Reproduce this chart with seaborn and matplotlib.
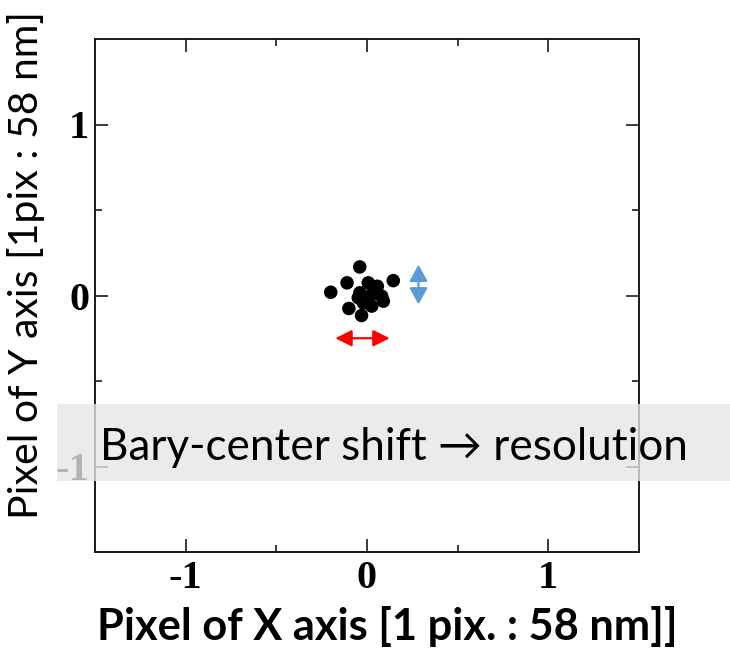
import numpy as np
import pandas as pd
import matplotlib
matplotlib.use("Agg")
import matplotlib.pyplot as plt
from matplotlib.patches import Rectangle, FancyArrowPatch
from matplotlib.ticker import FixedLocator
import seaborn as sns

# Bary-center positions of the detected spot (pixel units)
x_pix = [-0.04, -0.20, -0.11, 0.145, -0.10, -0.03,
         0.007, 0.057, -0.039, 0.026, 0.081, 0.09, -0.02, 0.026, -0.048]
y_pix = [0.167, 0.019, 0.074, 0.087, -0.076, -0.117,
         0.074, 0.054, 0.016, 0.006, -0.004, -0.033, -0.043, -0.062, -0.013]

tick_values = [-1, 0, 1]
tick_labels = ["-1", "0", "1"]
minor_values = [-0.5, 0.5]

x_title = "Pixel of X axis [1 pix. : 58 nm]]"
y_title = "Pixel of Y axis [1pix : 58 nm]"
banner_text = "Bary-center shift \u2192 resolution"

df = pd.DataFrame({"x": x_pix, "y": y_pix})

sns.set_theme(style="white")
plt.rcParams["font.family"] = ["Lato", "DejaVu Sans"]

W, H, DPI = 730, 664, 100
fig = plt.figure(figsize=(W / DPI, H / DPI), dpi=DPI)
ax = fig.add_axes([95 / W, 1 - 552 / H, (639 - 95) / W, (552 - 39) / H])

sns.scatterplot(data=df, x="x", y="y", ax=ax, color="black", s=95,
                edgecolor="none", linewidth=0, legend=False, zorder=3)
ax.set_xlabel("")
ax.set_ylabel("")

ax.set_xlim(-1.5, 1.5)
ax.set_ylim(-1.5, 1.5)

for sp in ax.spines.values():
    sp.set_color("#1a1a1a")
    sp.set_linewidth(1.4)
    sp.set_visible(True)

ax.xaxis.set_major_locator(FixedLocator(tick_values))
ax.yaxis.set_major_locator(FixedLocator(tick_values))
ax.xaxis.set_minor_locator(FixedLocator(minor_values))
ax.yaxis.set_minor_locator(FixedLocator(minor_values))
ax.set_xticklabels(tick_labels)
ax.set_yticklabels(tick_labels)
ax.tick_params(which="both", direction="in", top=True, right=True,
               bottom=True, left=True, color="#1a1a1a", width=1.2)
ax.tick_params(which="major", length=9.5)
ax.tick_params(which="minor", length=4.7)
ax.tick_params(axis="x", which="major", pad=6)
ax.tick_params(axis="y", which="major", pad=4)
for lab in ax.get_xticklabels() + ax.get_yticklabels():
    lab.set_fontfamily("Liberation Serif")
    lab.set_fontweight("bold")
    lab.set_fontsize(29)
    lab.set_color("black")

# Horizontal (red) and vertical (blue) spread indicators
red_arrow = FancyArrowPatch((-0.175, -0.25), (0.125, -0.25),
                            arrowstyle="<|-|>,head_length=1.0,head_width=0.5",
                            mutation_scale=10, color="#ff0000", lw=1.6,
                            shrinkA=0, shrinkB=0, zorder=4)
blue_arrow = FancyArrowPatch((0.284, 0.18), (0.284, -0.052),
                             arrowstyle="<|-|>,head_length=1.0,head_width=0.55",
                             mutation_scale=10, color="#5b9bd5", lw=1.6,
                             shrinkA=0, shrinkB=0, zorder=4)
ax.add_patch(red_arrow)
ax.add_patch(blue_arrow)

xl = fig.text(387.5 / W, 1 - 640 / H, x_title, ha="center", va="baseline",
              fontsize=22, fontweight="bold", color="black")
yl = fig.text(26 / W, 1 - 265 / H, y_title, ha="center", va="center",
              rotation=90, fontsize=22, color="black")

# Semi-transparent caption band across the lower part of the plot
band = Rectangle((57 / W, 1 - 481 / H), 1 - 57 / W, (481 - 404) / H,
                 transform=fig.transFigure, facecolor="#e6e6e6", alpha=0.78,
                 edgecolor="none", zorder=10)
fig.add_artist(band)
bt = fig.text(393.5 / W, 1 - 460 / H, banner_text, ha="center", va="baseline",
              fontsize=34, color="black", zorder=11,
              family=["Lato", "DejaVu Sans"])

# Size the titles so they span their intended widths
fig.canvas.draw()
renderer = fig.canvas.get_renderer()
for txt, target, dim in [(xl, 581, "w"), (yl, 508, "h"), (bt, 587, "w")]:
    for _ in range(3):
        bb = txt.get_window_extent(renderer)
        cur = bb.width if dim == "w" else bb.height
        txt.set_fontsize(txt.get_fontsize() * target / cur)
        fig.canvas.draw()

fig.savefig("out.png", dpi=DPI)
